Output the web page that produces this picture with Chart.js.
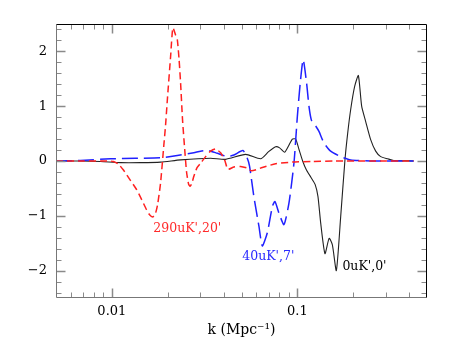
<!DOCTYPE html>
<html><head><meta charset="utf-8">
<script src="https://cdn.jsdelivr.net/npm/chart.js@4/dist/chart.umd.min.js"></script>
<style>html,body{margin:0;padding:0;background:#fff}#wrap{width:450px;height:343px}</style>
</head><body><div id="wrap"><canvas id="c" width="450" height="343"></canvas></div>
<script>
// ---- data ----
const redK = [0.005, 0.007, 0.0087, 0.0097, 0.0102, 0.01087, 0.01152, 0.01246, 0.01359, 0.01446, 0.01539, 0.01597, 0.01658, 0.0171, 0.01764, 0.01831, 0.01908, 0.01948, 0.0199, 0.02073, 0.02133, 0.02206, 0.02253, 0.02304, 0.02348, 0.02405, 0.02466, 0.02528, 0.02592, 0.02641, 0.02691, 0.02768, 0.0288, 0.03009, 0.03202, 0.03407, 0.03625, 0.03858, 0.04054, 0.04224, 0.0455, 0.04944, 0.05373, 0.05669, 0.06474, 0.07638, 0.09397, 0.1205, 0.16, 0.25, 0.4236];
const redVals = [0, 0, 0, 0, -0.01, -0.06, -0.16, -0.33, -0.52, -0.70, -0.89, -0.98, -1.02, -0.98, -0.80, -0.40, 0.30, 0.65, 1.10, 1.90, 2.43, 2.30, 2.22, 1.85, 1.42, 0.75, 0.25, -0.20, -0.42, -0.46, -0.42, -0.28, -0.12, -0.04, 0.08, 0.18, 0.22, 0.15, 0.02, -0.15, -0.11, -0.10, -0.13, -0.18, -0.12, -0.05, -0.02, -0.01, 0, 0, 0];

const blueK = [0.005, 0.00678, 0.00984, 0.01342, 0.01831, 0.02253, 0.02768, 0.03009, 0.03324, 0.03702, 0.04192, 0.0455, 0.05087, 0.05373, 0.05528, 0.05831, 0.06207, 0.06474, 0.06889, 0.07333, 0.07573, 0.07958, 0.08467, 0.0901, 0.09587, 0.1, 0.1035, 0.1075, 0.1122, 0.1155, 0.119, 0.1255, 0.1308, 0.1391, 0.1512, 0.1713, 0.1939, 0.2485, 0.4236];
const blueVals = [0, 0.01, 0.04, 0.05, 0.06, 0.10, 0.15, 0.18, 0.19, 0.14, 0.08, 0.11, 0.19, 0.05, -0.10, -0.65, -1.19, -1.55, -1.31, -0.83, -0.74, -0.95, -1.16, -0.77, -0.04, 0.81, 1.40, 1.85, 1.42, 1.00, 0.75, 0.64, 0.54, 0.33, 0.18, 0.08, 0.02, 0, 0];

const blackK = [0.005, 0.00678, 0.00869, 0.01114, 0.01428, 0.01831, 0.02348, 0.03407, 0.04105, 0.05262, 0.06341, 0.07001, 0.07638, 0.08026, 0.08542, 0.09397, 0.0979, 0.1023, 0.1068, 0.1118, 0.1185, 0.1248, 0.1292, 0.1336, 0.1409, 0.1484, 0.1545, 0.1623, 0.1713, 0.1806, 0.1867, 0.1939, 0.2037, 0.2133, 0.2222, 0.2336, 0.2485, 0.2644, 0.2813, 0.3069, 0.3307, 0.4236];
const blackVals = [0, 0, -0.01, -0.03, -0.03, -0.02, 0.02, 0.05, 0.03, 0.12, 0.04, 0.17, 0.26, 0.24, 0.16, 0.40, 0.40, 0.20, 0, -0.16, -0.30, -0.43, -0.65, -1.13, -1.69, -1.41, -1.53, -2.00, -1.01, 0.02, 0.50, 0.94, 1.36, 1.56, 1.00, 0.72, 0.39, 0.18, 0.08, 0.04, 0.01, 0];

const seriesNames = ["290uK',20'", "40uK',7'", "0uK',0'"];
const nameAnchorK = [0.01673, 0.0505, 0.1749];
const nameAnchorV = [-1.24, -1.74, -1.93];

const xMajorTicks = [0.01, 0.1];
const xMajorLabels = ['0.01', '0.1'];
const xMinorTicks = [0.006, 0.007, 0.008, 0.009, 0.02, 0.03, 0.04, 0.05, 0.06, 0.07, 0.08, 0.09, 0.2, 0.3, 0.4];
const yMajorTicks = [-2, -1, 0, 1, 2];
const yMajorLabels = ['\u22122', '\u22121', '0', '1', '2'];
const yMinorTicks = [-2.4, -2.2, -1.8, -1.6, -1.4, -1.2, -0.8, -0.6, -0.4, -0.2, 0.2, 0.4, 0.6, 0.8, 1.2, 1.4, 1.6, 1.8, 2.2, 2.4];
const xAxisTitle = 'k (Mpc\u207B\u00B9)';

// ---- styles ----
const RED = '#ff2020', BLUE = '#2020ff', BLACK = '#222222';
const SERIF = "'DejaVu Serif', 'Liberation Serif', serif";

function pts(ks, vs) { return ks.map((k, i) => ({x: k, y: vs[i]})); }

const framePlugin = {
  id: 'frame',
  afterDatasetsDraw(chart) {
    const {ctx, chartArea: {left, right, top, bottom}, scales: {x, y}} = chart;
    ctx.save();
    const L = Math.round(left) + 0.5, R = Math.round(right) - 0.5;
    const T = Math.round(top) + 0.5, B = Math.round(bottom) - 0.5;
    ctx.strokeStyle = '#8a8a8a';
    function xt(v, len, w) {
      const px = Math.round(x.getPixelForValue(v)) + 0.5;
      ctx.lineWidth = w;
      ctx.beginPath(); ctx.moveTo(px, B); ctx.lineTo(px, B - len);
      ctx.moveTo(px, T); ctx.lineTo(px, T + len); ctx.stroke();
    }
    function yt(v, len, w) {
      const py = Math.round(y.getPixelForValue(v)) + 0.5;
      ctx.lineWidth = w;
      ctx.beginPath(); ctx.moveTo(L, py); ctx.lineTo(L + len, py);
      ctx.moveTo(R, py); ctx.lineTo(R - len, py); ctx.stroke();
    }
    xMinorTicks.forEach(v => xt(v, 5, 1));
    xMajorTicks.forEach(v => xt(v, 9, 1.5));
    yMinorTicks.forEach(v => yt(v, 5, 1));
    yMajorTicks.forEach(v => yt(v, 9, 1.5));
    ctx.lineWidth = 1;
    ctx.strokeStyle = '#777777';
    ctx.beginPath(); ctx.moveTo(L, T); ctx.lineTo(L, B); ctx.lineTo(R, B); ctx.stroke();
    ctx.strokeStyle = '#000000';
    ctx.beginPath(); ctx.moveTo(L, T); ctx.lineTo(R, T); ctx.lineTo(R, B); ctx.stroke();
    ctx.font = '12.5px ' + SERIF;
    ctx.textAlign = 'left'; ctx.textBaseline = 'middle';
    const cols = ['#ff2a2a', '#2a2aff', '#000000'];
    seriesNames.forEach((s, i) => {
      ctx.fillStyle = cols[i];
      ctx.fillText(s, x.getPixelForValue(nameAnchorK[i]), y.getPixelForValue(nameAnchorV[i]));
    });
    ctx.restore();
  }
};

new Chart(document.getElementById('c'), {
  type: 'line',
  data: {
    datasets: [
      {label: seriesNames[0], data: pts(redK, redVals), borderColor: RED, borderWidth: 1.5, borderDash: [7, 4]},
      {label: seriesNames[1], data: pts(blueK, blueVals), borderColor: BLUE, borderWidth: 1.5, borderDash: [16, 6]},
      {label: seriesNames[2], data: pts(blackK, blackVals), borderColor: BLACK, borderWidth: 1.1}
    ]
  },
  options: {
    responsive: false, animation: false, devicePixelRatio: 1,
    layout: {padding: {top: 24, right: 23, bottom: 0, left: 0}},
    elements: {point: {radius: 0}, line: {tension: 0.2, fill: false}},
    plugins: {legend: {display: false}, tooltip: {enabled: false}},
    scales: {
      x: {
        type: 'logarithmic', min: 0.005, max: 0.5, position: 'bottom',
        grid: {display: false, drawTicks: false}, border: {display: false},
        afterBuildTicks: s => { s.ticks = xMajorTicks.map(v => ({value: v, major: true})); },
        ticks: {
          autoSkip: false, maxRotation: 0, padding: 6, color: '#000',
          font: {family: SERIF, size: 13},
          callback: (v) => { const i = xMajorTicks.findIndex(t => Math.abs(t - v) < 1e-9); return i >= 0 ? xMajorLabels[i] : ''; }
        },
        title: {display: true, text: xAxisTitle, color: '#000', font: {family: SERIF, size: 14}, padding: {top: 0, bottom: 4}},
        afterFit: s => { s.height = 45; }
      },
      y: {
        type: 'linear', min: -2.5, max: 2.5,
        grid: {display: false, drawTicks: false}, border: {display: false},
        afterBuildTicks: s => { s.ticks = yMajorTicks.map(v => ({value: v})); },
        ticks: {
          padding: 9, color: '#000', font: {family: SERIF, size: 13},
          callback: (v) => { const i = yMajorTicks.indexOf(v); return i >= 0 ? yMajorLabels[i] : ''; }
        },
        afterFit: s => { s.width = 56; }
      }
    }
  },
  plugins: [framePlugin]
});
</script>
</body></html>
